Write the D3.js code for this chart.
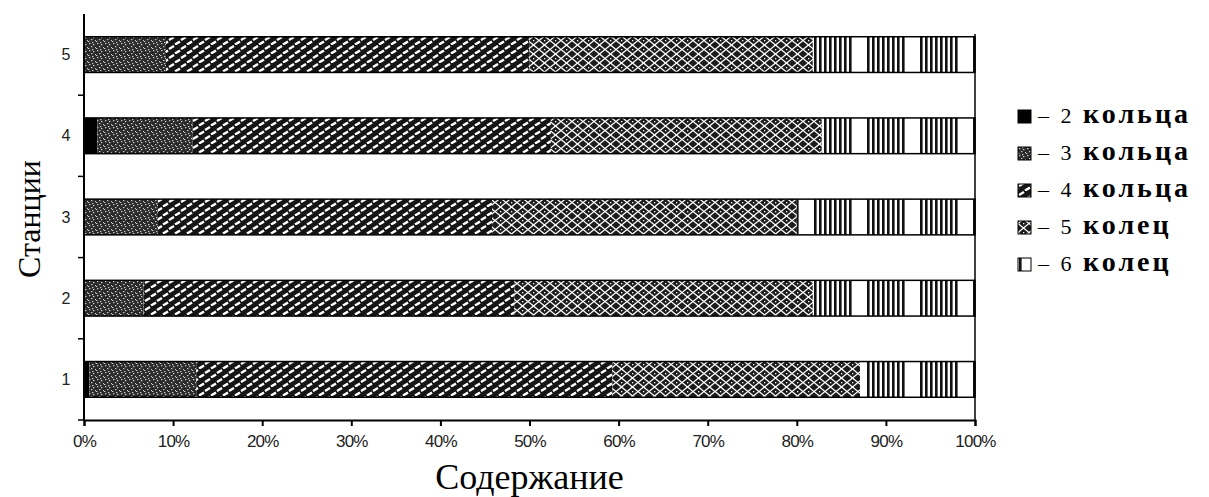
<!DOCTYPE html>
<html lang="ru">
<head>
<meta charset="UTF-8">
<title>Станции</title>
<script src="https://d3js.org/d3.v7.min.js"></script>
<style>
    body { margin: 0; background: #fff; }
    svg { display: block; }
</style>
</head>
<body>
<svg id="chart" width="1209" height="497"></svg>
<script>
// data (percent of total per station)
const stations = ["1", "2", "3", "4", "5"];
const ring2 = [0.6, 0, 0, 1.5, 0];
const ring3 = [12.0, 6.7, 8.3, 10.7, 9.2];
const ring4 = [46.7, 41.6, 37.5, 40.2, 40.8];
const ring5 = [27.8, 33.5, 34.2, 30.4, 31.8];
const ring6 = [12.9, 18.2, 20.0, 17.2, 18.2];
const seriesNames = ["2 кольца", "3 кольца", "4 кольца", "5 колец", "6 колец"];
const xTicks = [0, 10, 20, 30, 40, 50, 60, 70, 80, 90, 100];

const keys = ["r2", "r3", "r4", "r5", "r6"];
const table = stations.map((s, i) => ({
    station: s, r2: ring2[i], r3: ring3[i], r4: ring4[i], r5: ring5[i], r6: ring6[i]
}));

const svg = d3.select("#chart");
const margin = { top: 14, right: 234, bottom: 77, left: 84 };
const width = 1209 - margin.left - margin.right;
const height = 497 - margin.top - margin.bottom;

const x = d3.scaleLinear().domain([0, 100]).range([margin.left, margin.left + width]);
const y = d3.scaleBand()
    .domain(stations.slice().reverse())
    .range([margin.top, margin.top + height])
    .paddingInner(0.56)
    .paddingOuter(0.28);

// fill patterns imitating the old b/w hatching
const defs = svg.append("defs");

const p3 = defs.append("pattern").attr("id", "p3")
    .attr("patternUnits", "userSpaceOnUse").attr("width", 8).attr("height", 7);
p3.append("rect").attr("width", 8).attr("height", 7).attr("fill", "#2a2a2a");
[[1, 1], [5, 2], [3, 4], [7, 5], [0, 6], [4, 0]].forEach(d => {
    p3.append("rect").attr("x", d[0]).attr("y", d[1])
        .attr("width", 1.4).attr("height", 1.2).attr("fill", "#ccc");
});

const p4 = defs.append("pattern").attr("id", "p4")
    .attr("patternUnits", "userSpaceOnUse").attr("width", 12).attr("height", 9);
p4.append("rect").attr("width", 12).attr("height", 9).attr("fill", "#151515");
p4.append("path").attr("d", "M1,4 L6,1 M7,8.5 L12,5.5 M-5,8.5 L0,5.5")
    .attr("stroke", "#fff").attr("stroke-width", 2.4).attr("fill", "none");

const p5 = defs.append("pattern").attr("id", "p5")
    .attr("patternUnits", "userSpaceOnUse").attr("width", 11).attr("height", 9);
p5.append("rect").attr("width", 11).attr("height", 9).attr("fill", "#1c1c1c");
p5.append("path").attr("d", "M0,4.5 L5.5,0 L11,4.5 L5.5,9 Z")
    .attr("stroke", "#fff").attr("stroke-width", 1.3).attr("fill", "none");
p5.append("rect").attr("x", 5).attr("y", 4).attr("width", 1.3).attr("height", 1.3).attr("fill", "#fff");

const p6 = defs.append("pattern").attr("id", "p6")
    .attr("patternUnits", "userSpaceOnUse")
    .attr("x", x(0) + 41).attr("width", 53).attr("height", 10);
p6.append("rect").attr("width", 53).attr("height", 10).attr("fill", "#fff");
[0, 5, 10, 15, 20, 25, 30, 35].forEach(v => {
    p6.append("rect").attr("x", v).attr("width", 2.6).attr("height", 10).attr("fill", "#111");
});

const fills = { r2: "#000", r3: "url(#p3)", r4: "url(#p4)", r5: "url(#p5)", r6: "url(#p6)" };

const stacked = d3.stack().keys(keys)(table);

// bars
svg.append("g")
    .selectAll("g")
    .data(stacked)
    .join("g")
    .attr("fill", d => fills[d.key])
    .selectAll("rect")
    .data(d => d.filter(v => v[1] - v[0] > 0))
    .join("rect")
    .attr("x", d => x(d[0]))
    .attr("width", d => x(d[1]) - x(d[0]))
    .attr("y", d => y(d.data.station))
    .attr("height", y.bandwidth());

// outline of each bar
svg.append("g")
    .selectAll("rect")
    .data(table)
    .join("rect")
    .attr("x", x(0))
    .attr("width", x(100) - x(0))
    .attr("y", d => y(d.station))
    .attr("height", y.bandwidth())
    .attr("fill", "none")
    .attr("stroke", "#000")
    .attr("stroke-width", 1.5);

// right edge line
svg.append("line")
    .attr("x1", x(100)).attr("x2", x(100))
    .attr("y1", margin.top + 20).attr("y2", margin.top + height)
    .attr("stroke", "#000").attr("stroke-width", 1.5);

// x axis
const xAxis = svg.append("g")
    .attr("transform", `translate(0,${margin.top + height})`)
    .call(d3.axisBottom(x).tickValues(xTicks).tickFormat(d => d + "%").tickSize(6).tickPadding(9));
xAxis.select(".domain").attr("stroke-width", 2);
xAxis.selectAll(".tick line").attr("stroke-width", 2);
xAxis.selectAll("text")
    .style("font-family", "Liberation Sans, sans-serif")
    .style("font-size", "17px")
    .style("letter-spacing", "-0.8px")
    .attr("fill", "#222");

// y axis: ticks between categories, labels centred on bars
const yEdges = y.domain().map(d => y(d) - y.step() * y.paddingInner() / 2).slice(1)
    .concat([margin.top + height]);
const yAxis = svg.append("g").attr("transform", `translate(${x(0)},0)`);
yAxis.append("line")
    .attr("y1", margin.top).attr("y2", margin.top + height)
    .attr("stroke", "#000").attr("stroke-width", 2);
yAxis.selectAll(".edge")
    .data(yEdges)
    .join("line")
    .attr("x1", -6).attr("x2", 0)
    .attr("y1", d => d).attr("y2", d => d)
    .attr("stroke", "#000").attr("stroke-width", 1.5);
yAxis.selectAll("text")
    .data(stations)
    .join("text")
    .attr("x", -18)
    .attr("y", d => y(d) + y.bandwidth() / 2)
    .attr("dy", "0.35em")
    .attr("text-anchor", "middle")
    .style("font-family", "Liberation Sans, sans-serif")
    .style("font-size", "16px")
    .attr("fill", "#222")
    .text(d => d);

// axis titles
svg.append("text")
    .attr("transform", `translate(40,${margin.top + height / 2 + 2}) rotate(-90)`)
    .attr("text-anchor", "middle")
    .attr("font-family", "Liberation Serif, serif")
    .attr("font-size", 32)
    .text("Станции");

svg.append("text")
    .attr("x", (x(0) + x(100)) / 2)
    .attr("y", 489)
    .attr("text-anchor", "middle")
    .attr("font-family", "Liberation Serif, serif")
    .attr("font-size", 36)
    .text("Содержание");

// legend
const legend = svg.append("g").attr("transform", "translate(1018,0)");
const ly = d3.scalePoint().domain(keys).range([117, 265]);
const item = legend.selectAll("g")
    .data(keys)
    .join("g")
    .attr("transform", d => `translate(0,${ly(d)})`);
item.append("rect")
    .attr("x", 0).attr("y", -7)
    .attr("width", 13).attr("height", 13)
    .attr("fill", d => fills[d])
    .attr("stroke", "#000").attr("stroke-width", 1);
const lt = item.append("text")
    .attr("x", 20)
    .attr("dy", "0.35em")
    .attr("font-family", "Liberation Serif, serif");
lt.append("tspan")
    .attr("font-size", 22)
    .attr("letter-spacing", 3)
    .text((d, i) => "– " + seriesNames[i].split(" ")[0] + " ");
lt.append("tspan")
    .attr("font-size", 28)
    .attr("font-weight", "bold")
    .attr("letter-spacing", 3)
    .text((d, i) => seriesNames[i].split(" ")[1]);
</script>
</body>
</html>
